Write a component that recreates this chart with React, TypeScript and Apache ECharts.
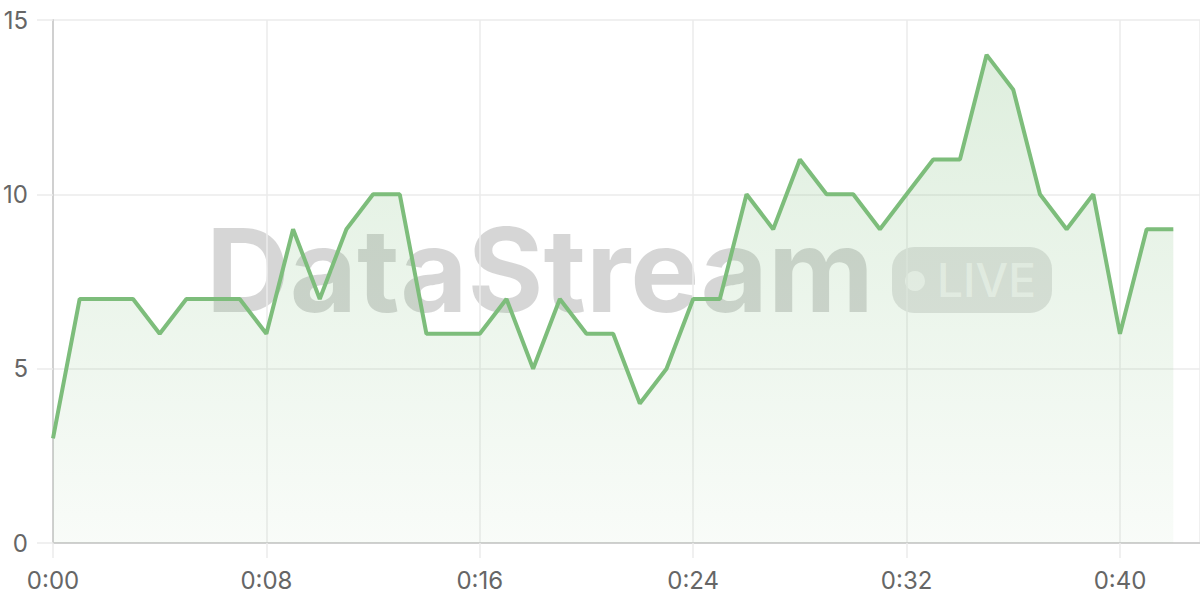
import { useEffect, useRef } from 'react'
import * as echarts from 'echarts'

// minutes since start, one point per minute
const minutes = [
  0, 1, 2, 3, 4, 5, 6, 7, 8, 9, 10, 11, 12, 13, 14, 15, 16, 17, 18, 19, 20, 21,
  22, 23, 24, 25, 26, 27, 28, 29, 30, 31, 32, 33, 34, 35, 36, 37, 38, 39, 40, 41, 42
]
const values = [
  3, 7, 7, 7, 6, 7, 7, 7, 6, 9, 7, 9, 10, 10, 6, 6, 6, 7, 5, 7, 6, 6,
  4, 5, 7, 7, 10, 9, 11, 10, 10, 9, 10, 11, 11, 14, 13, 10, 9, 10, 6, 9, 9
]
const yTicks = [0, 5, 10, 15]
const watermark = 'DataStream'
const badge = 'LIVE'

const fmtTime = (v: number) => {
  const m = Math.floor(v / 60)
  const s = v % 60
  return `${m}:${s < 10 ? '0' + s : s}`
}

export default function App() {
  const ref = useRef<HTMLDivElement>(null)

  useEffect(() => {
    if (!ref.current) return
    const chart = echarts.init(ref.current, undefined, { renderer: 'svg' })
    const green = '#7dbd7b'
    const grid = '#ebebeb'
    const font = 'Inter, "Noto Sans", sans-serif'

    chart.setOption({
      animation: false,
      backgroundColor: '#fff',
      textStyle: { fontFamily: font },
      grid: { left: 53, right: 0, top: 20, bottom: 57 },
      xAxis: {
        type: 'value',
        min: 0,
        max: 43,
        interval: 8,
        axisLine: { show: true, lineStyle: { color: '#d0d0d0', width: 2 } },
        axisTick: { show: true, length: 15, lineStyle: { color: grid, width: 1.5 } },
        splitLine: { show: true, lineStyle: { color: grid, width: 1.5 } },
        axisLabel: {
          color: '#666',
          fontSize: 24,
          margin: 25,
          showMaxLabel: false,
          formatter: (v: number) => (v % 8 === 0 ? fmtTime(v) : '')
        }
      },
      yAxis: {
        type: 'value',
        min: yTicks[0],
        max: yTicks[yTicks.length - 1],
        interval: 5,
        axisLine: { show: true, lineStyle: { color: '#d0d0d0', width: 2 } },
        axisTick: { show: true, length: 16, lineStyle: { color: grid, width: 1.5 } },
        splitLine: { show: true, lineStyle: { color: grid, width: 1.5 } },
        axisLabel: { color: '#666', fontSize: 24, margin: 25 }
      },
      graphic: [
        {
          type: 'text',
          z: 0,
          silent: true,
          style: {
            text: watermark,
            x: 206,
            y: 270,
            fill: 'rgba(0,0,0,0.16)',
            font: `bold 116px ${font}`,
            verticalAlign: 'middle',
            align: 'left'
          }
        },
        {
          type: 'rect',
          z: 0,
          silent: true,
          shape: { x: 892, y: 247, width: 160, height: 66, r: 22 },
          style: { fill: 'rgba(0,0,0,0.11)' }
        },
        {
          type: 'circle',
          z: 0,
          silent: true,
          shape: { cx: 915, cy: 281, r: 10 },
          style: { fill: 'rgba(255,255,255,0.6)' }
        },
        {
          type: 'text',
          z: 0,
          silent: true,
          style: {
            text: badge,
            x: 937,
            y: 280,
            fill: 'rgba(255,255,255,0.6)',
            font: `500 46px ${font}`,
            verticalAlign: 'middle',
            align: 'left'
          }
        }
      ],
      series: [
        {
          type: 'line',
          z: 2,
          data: minutes.map((m, i) => [m, values[i]]),
          symbol: 'none',
          lineStyle: { color: green, width: 4 },
          areaStyle: {
            color: new echarts.graphic.LinearGradient(0, 0, 0, 1, [
              { offset: 0, color: 'rgba(125,189,123,0.36)' },
              { offset: 1, color: 'rgba(125,189,123,0.07)' }
            ])
          }
        }
      ]
    })

    return () => chart.dispose()
  }, [])

  return (
    <div
      ref={ref}
      style={{ position: 'fixed', left: 0, top: 0, width: 1200, height: 600 }}
    />
  )
}
